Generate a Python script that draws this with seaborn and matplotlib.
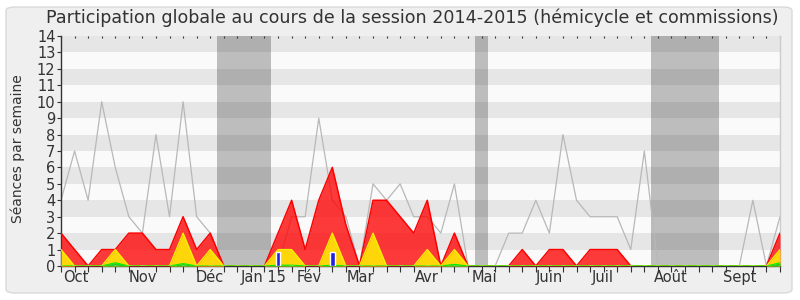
import matplotlib
matplotlib.use("Agg")
import matplotlib.pyplot as plt
from matplotlib.patches import FancyBboxPatch
import numpy as np
import pandas as pd
import seaborn as sns

# ---- data (weekly, session 2014-2015) ----
weeks = list(range(54))
seances = [4, 7, 4, 10, 6, 3, 2, 8, 3, 10, 3, 2, 0, 0, 0, 0, 0, 3, 3, 9,
           4, 3, 0, 5, 4, 5, 3, 3, 2, 5, 0, 0, 0, 2, 2, 4, 2, 8, 4, 3,
           3, 3, 1, 7, 0, 0, 0, 0, 0, 0, 0, 4, 0, 3]
presence = [2, 1, 0, 1, 1, 2, 2, 1, 1, 3, 1, 2, 0, 0, 0, 0, 2, 4, 1, 4,
            6, 2.5, 0, 4, 4, 3, 2, 4, 0, 2, 0, 0, 0, 0, 1, 0, 1, 1, 0, 1,
            1, 1, 0, 0, 0, 0, 0, 0, 0, 0, 0, 0, 0, 2]
interventions = [1, 0, 0, 0, 1, 0, 0, 0, 0, 2, 0, 1, 0, 0, 0, 0, 1, 1, 0, 0,
                 2, 0, 0, 2, 0, 0, 0, 1, 0, 1, 0, 0, 0, 0, 0, 0, 0, 0, 0, 0,
                 0, 0, 0, 0, 0, 0, 0, 0, 0, 0, 0, 0, 0, 1]
amendements = [0, 0, 0, 0, 0.2, 0, 0, 0, 0, 0.15, 0, 0, 0, 0, 0, 0, 0.05, 0.05, 0, 0,
               0.05, 0, 0, 0, 0, 0, 0, 0, 0, 0.1, 0, 0, 0, 0, 0, 0, 0, 0, 0, 0,
               0, 0, 0, 0, 0, 0, 0, 0, 0, 0, 0, 0, 0, 0.2]
questions = [0, 0, 0, 0, 0, 0, 0, 0, 0, 0, 0, 0, 0, 0, 0, 0, 0.87, 0, 0, 0,
             0.87, 0, 0, 0, 0, 0, 0, 0, 0, 0, 0, 0, 0, 0, 0, 0, 0, 0, 0, 0,
             0, 0, 0, 0, 0, 0, 0, 0, 0, 0, 0, 0, 0, 0]
month_labels = ["Oct", "Nov", "Déc", "Jan 15", "Fév", "Mar", "Avr", "Mai",
                "Juin", "Juil", "Août", "Sept"]
month_pos = [1.1, 6.0, 11.0, 14.96, 18.3, 22.1, 27.0, 31.2, 35.96, 39.9, 44.95, 50.0]
vacances = [(11.5, 15.5), (30.5, 31.5), (43.5, 48.5)]

df = pd.DataFrame({"semaine": weeks, "seances": seances})

sns.set_style("white")
plt.rcParams["font.family"] = ["DejaVu Sans"]

fig = plt.figure(figsize=(8, 3), dpi=100, facecolor="white")
frame = FancyBboxPatch((6 / 800, 7 / 300), 786 / 800, 286 / 300,
                       boxstyle="round,pad=0,rounding_size=0.012",
                       transform=fig.transFigure, fc="#efefef", ec="#d9d9d9",
                       lw=1, zorder=-10)
fig.patches.append(frame)

ax = fig.add_axes([61 / 800, 34 / 300, 719 / 800, 230 / 300])
ax.set_zorder(5)
ax.set_facecolor("#fafafa")
for k in range(1, 14, 2):
    ax.axhspan(k, k + 1, color="#e6e6e6", lw=0, zorder=0)
for a, b in vacances:
    ax.axvspan(a, b, color=(50 / 255, 50 / 255, 50 / 255), alpha=0.3, lw=0, zorder=1)

sns.lineplot(data=df, x="semaine", y="seances", color="#b8b8b8", lw=0.9, ax=ax, zorder=2)

ax.fill_between(weeks, 0, presence, color="#ff0000", alpha=0.77, lw=0, zorder=3)
ax.plot(weeks, presence, color="#ff0000", lw=1.1, zorder=3)
ax.fill_between(weeks, 0, interventions, color="#ffd60a", lw=0, zorder=4)
ax.plot(weeks, interventions, color="#f5f000", lw=1, zorder=4)
ax.fill_between(weeks, 0, amendements, color="#22cc22", lw=0, zorder=5)
ax.plot(weeks, amendements, color="#00ee00", lw=0.8, zorder=5)
ax.bar(weeks, questions, width=0.36, color="#2222dd", zorder=6)

ax.set_xlim(0, 53)
ax.set_ylim(0, 14)
ax.set_xlabel("")
ax.set_ylabel("")

ax.set_xticks(month_pos)
ax.set_xticklabels(month_labels)
ax.set_xticks(weeks, minor=True)
ax.tick_params(axis="x", which="major", length=0, pad=3, labelsize=10.5,
               labelcolor="#333333")
ax.tick_params(axis="x", which="minor", length=4, width=0.8, direction="out",
               color="#333333", bottom=True)
ax.set_yticks(range(0, 15))
ax.tick_params(axis="y", which="major", length=3, width=0.8, direction="out",
               color="#333333", labelsize=10.5, labelcolor="#333333", pad=1, left=True)

top = ax.secondary_xaxis("top")
top.set_xticks(weeks)
top.tick_params(length=1.5, width=0.8, direction="in", color="#333333",
                labeltop=False)
top.spines["top"].set_visible(False)

for s in ["left", "bottom"]:
    ax.spines[s].set_color("#333333")
    ax.spines[s].set_linewidth(1)
ax.spines["top"].set_visible(False)
ax.spines["right"].set_color("#cccccc")
ax.spines["right"].set_linewidth(1)

fig.text(412 / 800, 0.94,
         "Participation globale au cours de la session 2014-2015 (hémicycle et commissions)",
         ha="center", va="center", fontsize=12.6, color="#333333")
fig.text(18 / 800, 0.503, "Séances par semaine", rotation=90, ha="center",
         va="center", fontsize=10, color="#333333")

fig.savefig("out.png", dpi=100, facecolor="white")
